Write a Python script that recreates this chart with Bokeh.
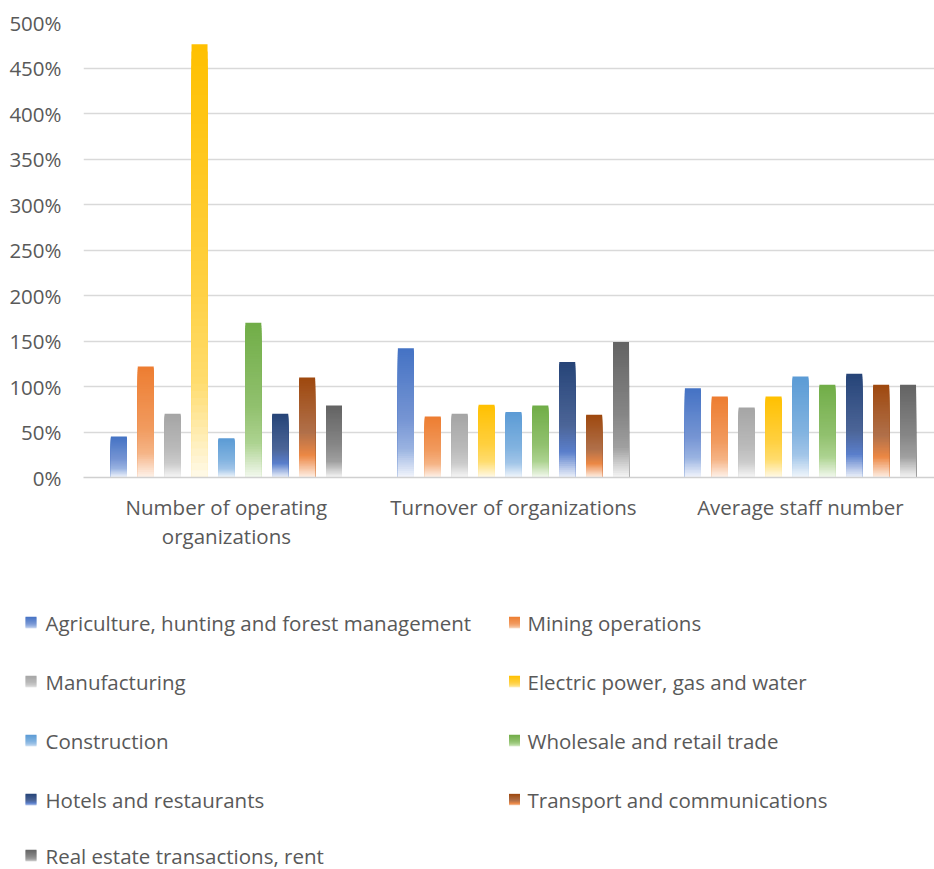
from bokeh.plotting import figure
from bokeh.models import Range1d, FixedTicker, PrintfTickFormatter, ColumnDataSource
from bokeh.layouts import column
from bokeh.transform import dodge
from bokeh.core.properties import value
from bokeh.embed import file_html
from bokeh.resources import INLINE

# ---------------- data ----------------
categories = ["Number of operating\norganizations", "Turnover of organizations", "Average staff number"]
series_names = [
    "Agriculture, hunting and forest management",
    "Mining operations",
    "Manufacturing",
    "Electric power, gas and water",
    "Construction",
    "Wholesale and retail trade",
    "Hotels and restaurants",
    "Transport and communications",
    "Real estate transactions, rent",
]
agriculture = [45, 142, 98]
mining = [122, 67, 89]
manufacturing = [70, 70, 77]
electric = [476, 80, 89]
construction = [43, 72, 111]
wholesale = [170, 79, 102]
hotels = [70, 127, 114]
transport = [110, 69, 102]
real_estate = [79, 149, 102]
series_values = [agriculture, mining, manufacturing, electric, construction,
                 wholesale, hotels, transport, real_estate]
y_ticks = [0, 50, 100, 150, 200, 250, 300, 350, 400, 450, 500]

# ---------------- styles ----------------
STOP_POS = [0.0, 0.55, 0.78, 1.0]
gradients = [
    ["#4472C4", "#7695D3", "#9AB3E1", "#F3F6FC"],
    ["#ED7D31", "#F19A5E", "#F5B486", "#FEF3EC"],
    ["#A5A5A5", "#BABABA", "#CBCBCB", "#F7F7F7"],
    ["#FFC000", "#FFD040", "#FFDC6E", "#FFFAEA"],
    ["#5B9BD5", "#82B3E0", "#A2C5E8", "#F2F7FC"],
    ["#70AD47", "#92C16F", "#ADD391", "#F4F9F0"],
    ["#264478", "#4C6597", "#5A7FCC", "#EEF2FA"],
    ["#9E480E", "#B0704A", "#EC8845", "#FEF1E8"],
    ["#636363", "#878787", "#A0A0A0", "#F6F6F6"],
]
TEXT = "#595959"
FONT = "Open Sans"
FS = "20.5px"
N_SLICES = 60
BAR_W = 0.0557
PITCH = 0.0937
W = 934
CHART_H = 568
LEG_H = 301


def hex2rgb(h):
    h = h.lstrip("#")
    return [int(h[i:i + 2], 16) for i in (0, 2, 4)]


def grad_color(stops, t):
    rgbs = [hex2rgb(s) for s in stops]
    for j in range(len(STOP_POS) - 1):
        a, b = STOP_POS[j], STOP_POS[j + 1]
        if t <= b:
            f = (t - a) / (b - a)
            c = [round(rgbs[j][m] + f * (rgbs[j + 1][m] - rgbs[j][m])) for m in range(3)]
            return "#%02x%02x%02x" % tuple(c)
    return stops[-1]


# ---------------- chart ----------------
p = figure(width=W, height=CHART_H,
           x_range=Range1d(-0.498, 2.467), y_range=Range1d(0, 500),
           output_backend="svg", toolbar_location=None,
           min_border_left=83, min_border_right=0, min_border_top=22,
           min_border_bottom=CHART_H - 22 - 455)

# each bar is a stack of nested rectangles from 0 up to a shrinking top,
# tallest first, so the colour changes along the bar like a gradient
for i, (vals, stops) in enumerate(zip(series_values, gradients)):
    g_col, tops, cols = [], [], []
    for g, v in enumerate(vals):
        for k in range(N_SLICES):
            t0 = k / N_SLICES
            g_col.append(g)
            tops.append(v * (1 - t0))
            cols.append(grad_color(stops, t0 + 0.5 / N_SLICES))
    src = ColumnDataSource(dict(g=g_col, top=tops, color=cols))
    p.vbar(x=dodge("g", (i - 4) * PITCH), width=BAR_W, top="top", bottom=0,
           fill_color="color", line_color=None, source=src)

p.outline_line_color = None
p.xgrid.visible = False
p.ygrid.grid_line_color = "#d9d9d9"
p.ygrid.grid_line_width = 1.5
p.ygrid.ticker = FixedTicker(ticks=y_ticks)

ya = p.yaxis[0]
ya.ticker = FixedTicker(ticks=y_ticks)
ya.formatter = PrintfTickFormatter(format="%d%%")
ya.axis_line_color = None
ya.major_tick_line_color = None
ya.minor_tick_line_color = None
ya.major_label_standoff = 16
ya.major_label_text_font = FONT
ya.major_label_text_font_size = FS
ya.major_label_text_color = TEXT

xa = p.xaxis[0]
xa.ticker = FixedTicker(ticks=[0, 1, 2])
xa.major_label_overrides = {i: c for i, c in enumerate(categories)}
xa.axis_line_color = "#d0d0d0"
xa.axis_line_width = 1.5
xa.major_tick_line_color = None
xa.minor_tick_line_color = None
xa.major_label_standoff = 9
xa.major_label_text_font = FONT
xa.major_label_text_font_size = FS
xa.major_label_text_color = TEXT
xa.major_label_text_line_height = 1.05

# ---------------- legend ----------------
leg = figure(width=W, height=LEG_H, x_range=Range1d(0, W), y_range=Range1d(LEG_H, 0),
             output_backend="svg", toolbar_location=None,
             x_axis_type=None, y_axis_type=None, min_border=0,
             min_border_left=0, min_border_right=0, min_border_top=0, min_border_bottom=0)
leg.outline_line_color = None
leg.grid.visible = False

for fig in (p, leg):
    if "frame_align" in fig.properties():
        fig.frame_align = False

row_y = [54, 113, 172, 231, 287]
col_marker_x = [30.5, 514]
col_text_x = [45, 527]
MS = 11
n_strips = 11
for i, (name, stops) in enumerate(zip(series_names, gradients)):
    r, c = divmod(i, 2)
    cy = row_y[r]
    mx = col_marker_x[c]
    xs, ys, cols = [], [], []
    for k in range(n_strips):
        t = (k + 0.5) / n_strips
        xs.append(mx)
        ys.append(cy - MS / 2 + (k + 0.5) * MS / n_strips)
        cols.append(grad_color(stops, t * 0.9))
    leg.rect(x=xs, y=ys, width=MS, height=MS / n_strips + 0.3, fill_color=cols, line_color=None)
    leg.text(x=[col_text_x[c]], y=[cy], text=[name], text_baseline="middle", text_align="left",
             text_font=value(FONT), text_font_size=FS, text_color=TEXT)

layout = column(p, leg)
open("out.html", "w").write(file_html(layout, INLINE))
